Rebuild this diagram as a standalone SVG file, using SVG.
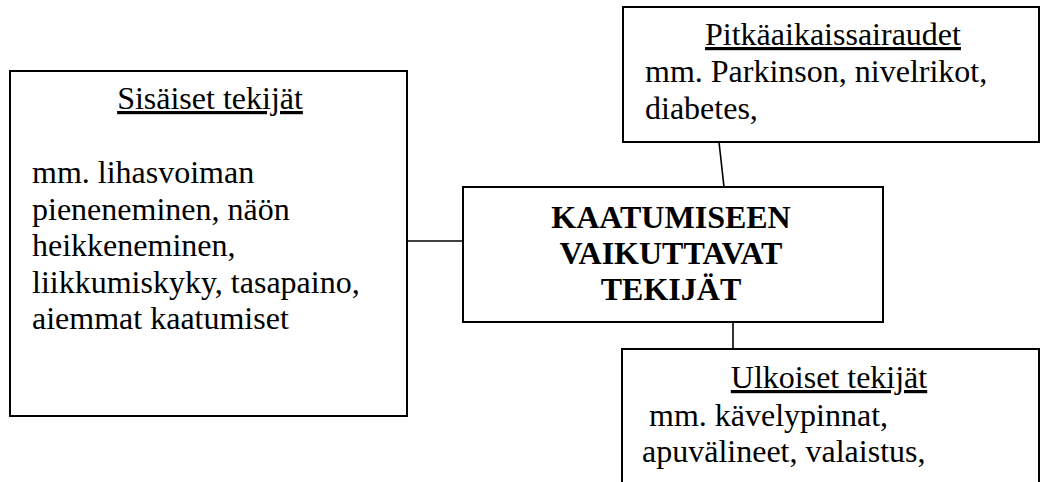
<svg xmlns="http://www.w3.org/2000/svg" width="1041" height="482" viewBox="0 0 1041 482">
<style>
.box{fill:#fff;stroke:#000;stroke-width:2}
.conn line{stroke:#000;stroke-width:1.6}
text{font-family:"Liberation Serif","Times New Roman",serif;font-size:32px;fill:#000}
.t{text-anchor:middle;text-decoration:underline}
.b{font-weight:bold;text-anchor:middle}
</style>
<rect width="1041" height="482" fill="#fff"/>
<g class="conn">
<line x1="407" y1="241" x2="463" y2="241"/>
<line x1="719" y1="142" x2="724" y2="187"/>
<line x1="733" y1="322" x2="733" y2="349"/>
</g>
<g id="sisaiset">
<rect class="box" x="10" y="71" width="397" height="345"/>
<text class="t" x="210" y="109">Sisäiset tekijät</text>
<text x="32" y="183">mm. lihasvoiman</text>
<text x="32" y="220">pieneneminen, näön</text>
<text x="32" y="256">heikkeneminen,</text>
<text x="32" y="293">liikkumiskyky, tasapaino,</text>
<text x="32" y="329">aiemmat kaatumiset</text>
</g>
<g id="pitkaaikais">
<rect class="box" x="623" y="7" width="416" height="135"/>
<text class="t" x="833" y="45">Pitkäaikaissairaudet</text>
<text x="645" y="82">mm. Parkinson, nivelrikot,</text>
<text x="645" y="119">diabetes,</text>
</g>
<g id="keskus">
<rect class="box" x="463" y="187" width="420" height="135"/>
<text class="b" x="671" y="228">KAATUMISEEN</text>
<text class="b" x="671" y="264">VAIKUTTAVAT</text>
<text class="b" x="671" y="300">TEKIJÄT</text>
</g>
<g id="ulkoiset">
<rect class="box" x="622" y="349" width="417" height="200"/>
<text class="t" x="829" y="388">Ulkoiset tekijät</text>
<text x="649" y="426">mm. kävelypinnat,</text>
<text x="642" y="462">apuvälineet, valaistus,</text>
</g>
</svg>
